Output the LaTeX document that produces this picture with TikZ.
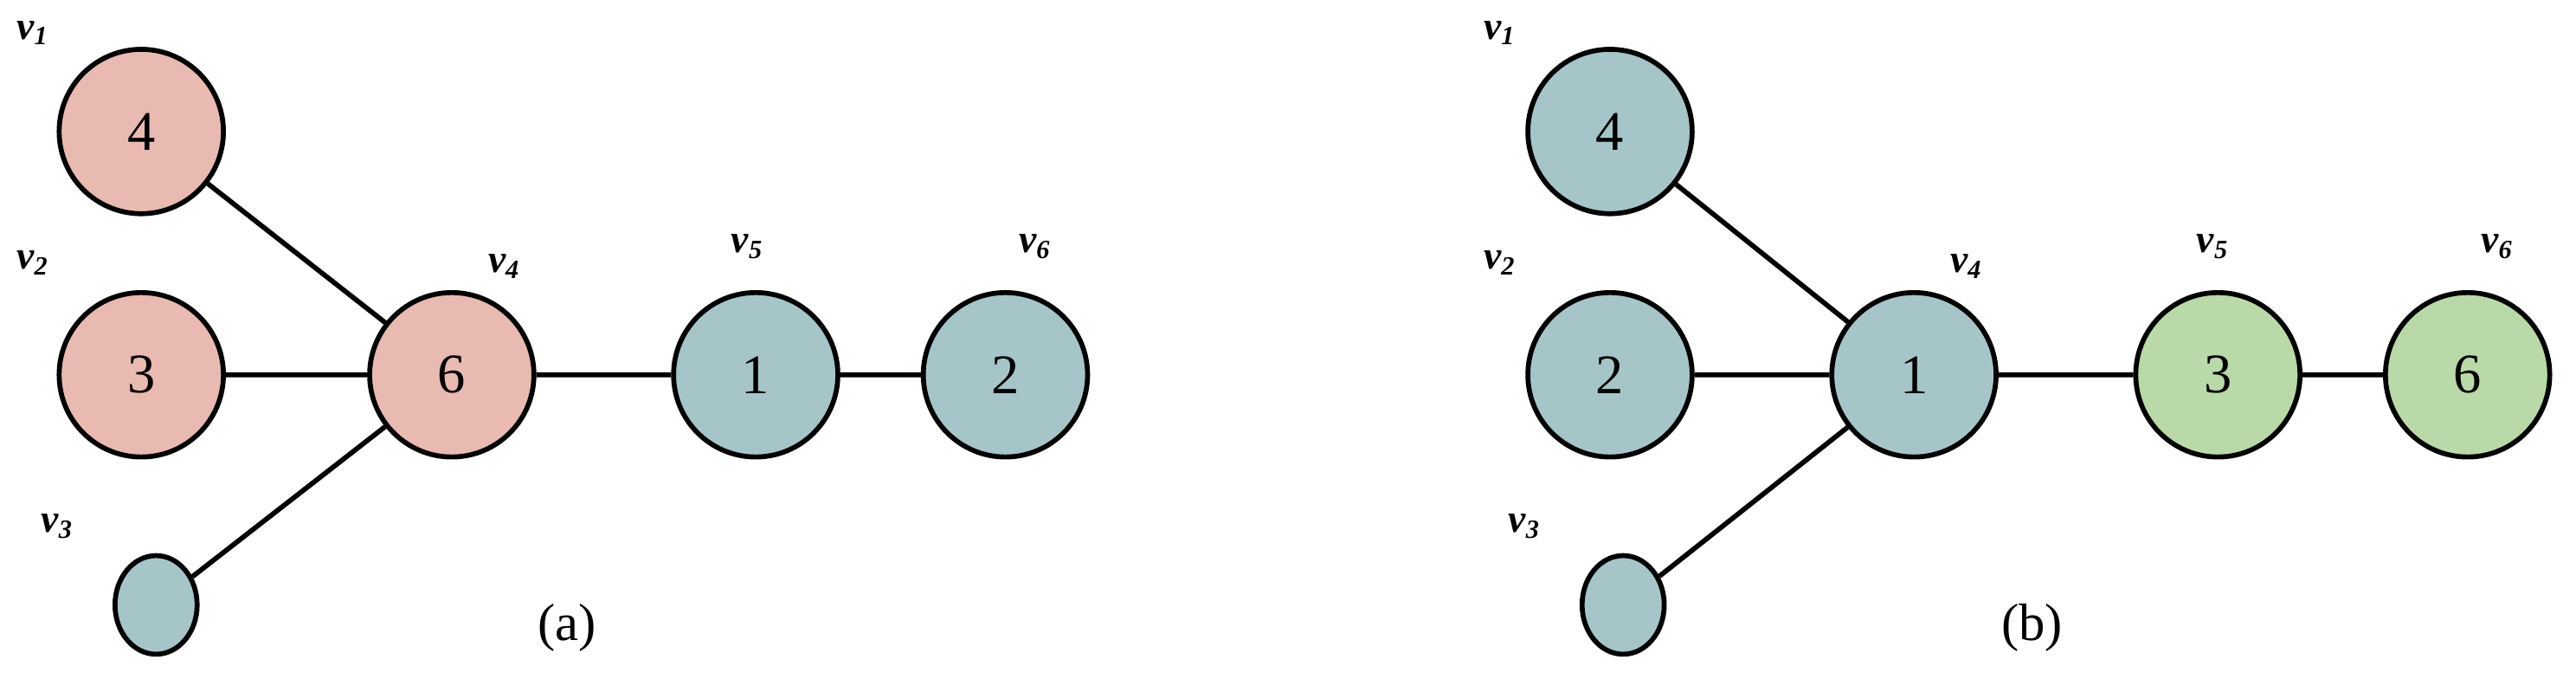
\documentclass[tikz,border=0pt]{standalone}
\usepackage{fontspec}
\setmainfont{Liberation Serif}
\usetikzlibrary{shapes.geometric}
\definecolor{pk}{HTML}{E8BAB1}
\definecolor{tl}{HTML}{A6C5C9}
\definecolor{gr}{HTML}{B9D9A8}
\begin{document}
\begin{tikzpicture}[x=0.5pt,y=-0.5pt,
  vtx/.style={circle,draw,line width=1.5pt,minimum size=50pt,inner sep=0pt,font=\fontsize{17}{17}\selectfont},
  small/.style={ellipse,draw,line width=1.5pt,minimum width=25pt,minimum height=30pt,inner sep=0pt},
  lab/.style={font=\fontsize{12}{12}\selectfont\bfseries\itshape},
  edge/.style={line width=1.5pt},
  captext/.style={font=\fontsize{16}{16}\selectfont}]
\useasboundingbox (0,0) rectangle (1568,413);
% (a)
\node[vtx,fill=pk] (a1) at (86,80) {4};
\node[vtx,fill=pk] (a2) at (86,228) {3};
\node[small,fill=tl] (a3) at (95,368) {};
\node[vtx,fill=pk] (a4) at (275,228) {6};
\node[vtx,fill=tl] (a5) at (460,228) {1};
\node[vtx,fill=tl] (a6) at (612,228) {2};
\draw[edge] (a1)--(a4) (a2)--(a4) (a3)--(a4) (a4)--(a5) (a5)--(a6);
\node[lab] (la1) at (20,20) {v\textsubscript{1}};
\node[lab] (la2) at (20,160) {v\textsubscript{2}};
\node[lab] (la3) at (35,320) {v\textsubscript{3}};
\node[lab] (la4) at (307,162) {v\textsubscript{4}};
\node[lab] (la5) at (455,150) {v\textsubscript{5}};
\node[lab] (la6) at (630,150) {v\textsubscript{6}};
\node[captext] (ca) at (345,382) {(a)};
% (b)
\node[vtx,fill=tl] (b1) at (980,80) {4};
\node[vtx,fill=tl] (b2) at (980,228) {2};
\node[small,fill=tl] (b3) at (988,368) {};
\node[vtx,fill=tl] (b4) at (1165,228) {1};
\node[vtx,fill=gr] (b5) at (1350,228) {3};
\node[vtx,fill=gr] (b6) at (1502,228) {6};
\draw[edge] (b1)--(b4) (b2)--(b4) (b3)--(b4) (b4)--(b5) (b5)--(b6);
\node[lab] (lb1) at (913,20) {v\textsubscript{1}};
\node[lab] (lb2) at (913,160) {v\textsubscript{2}};
\node[lab] (lb3) at (928,320) {v\textsubscript{3}};
\node[lab] (lb4) at (1197,162) {v\textsubscript{4}};
\node[lab] (lb5) at (1347,150) {v\textsubscript{5}};
\node[lab] (lb6) at (1520,150) {v\textsubscript{6}};
\node[captext] (cb) at (1237,382) {(b)};
\end{tikzpicture}
\end{document}
